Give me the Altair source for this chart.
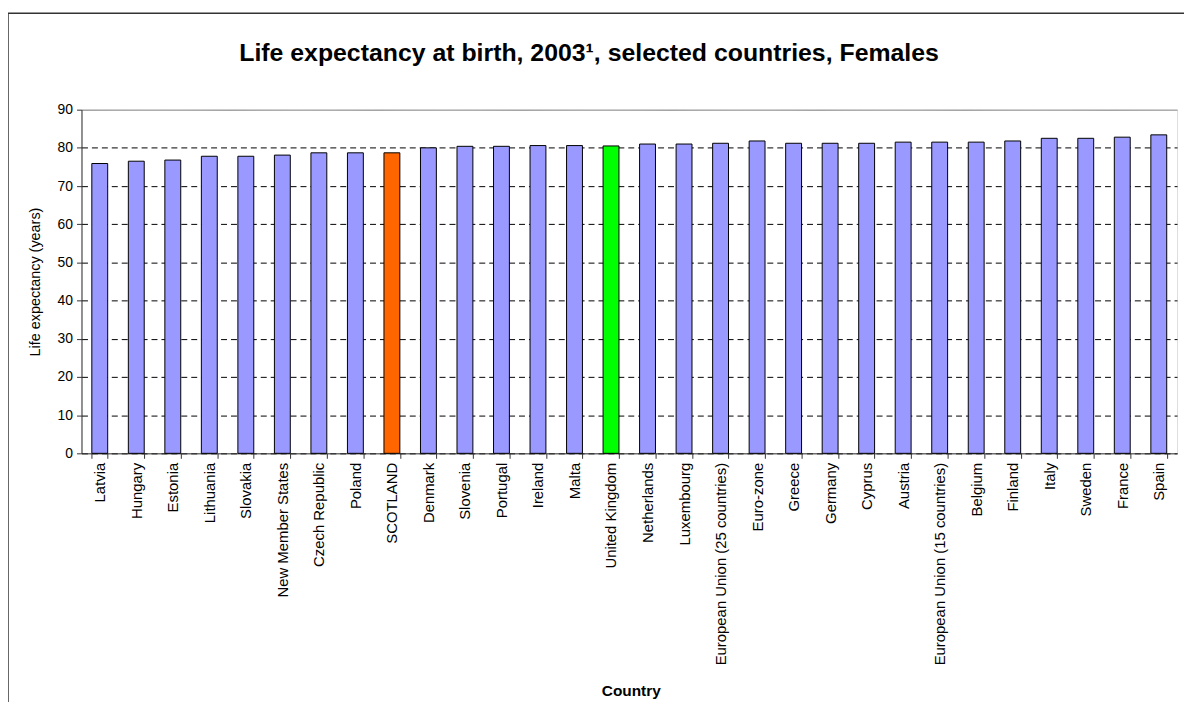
import altair as alt
import pandas as pd

countries = ["Latvia", "Hungary", "Estonia", "Lithuania", "Slovakia", "New Member States",
             "Czech Republic", "Poland", "SCOTLAND", "Denmark", "Slovenia", "Portugal",
             "Ireland", "Malta", "United Kingdom", "Netherlands", "Luxembourg",
             "European Union (25 countries)", "Euro-zone", "Greece", "Germany", "Cyprus",
             "Austria", "European Union (15 countries)", "Belgium", "Finland", "Italy",
             "Sweden", "France", "Spain"]
values = [75.9, 76.5, 76.8, 77.8, 77.8, 78.1, 78.7, 78.7, 78.7, 80.0, 80.4, 80.4,
          80.6, 80.6, 80.5, 81.0, 81.0, 81.2, 81.8, 81.2, 81.2, 81.2, 81.5, 81.5,
          81.5, 81.8, 82.5, 82.5, 82.8, 83.4]
highlight = {"SCOTLAND": "#FF6600", "United Kingdom": "#00FF00"}
default_color = "#9999FF"
title_text = "Life expectancy at birth, 2003\u00b9, selected countries, Females"

df = pd.DataFrame({"Country": countries, "Life": values})
df["color"] = [highlight.get(c, default_color) for c in countries]

FONT = "Liberation Sans"

bars = alt.Chart(df).mark_bar(stroke="black", strokeWidth=1).encode(
    x=alt.X("Country:N", sort=countries,
            scale=alt.Scale(paddingInner=0.565, paddingOuter=0.2825),
            axis=alt.Axis(title="Country", labelAngle=-90, labelFontSize=15,
                          labelFont=FONT, labelColor="black", labelPadding=4,
                          labelLimit=0,
                          tickBand="extent", tickSize=5, tickColor="#333333",
                          domainColor="#333333", titleFont=FONT, titleFontSize=15.5,
                          titleFontWeight="bold", titleColor="black",
                          titleY=244, titleBaseline="alphabetic", titleX=553)),
    y=alt.Y("Life:Q", scale=alt.Scale(domain=[0, 90], nice=False),
            axis=alt.Axis(title="Life expectancy (years)", values=list(range(0, 100, 10)),
                          labelFontSize=14, labelFont=FONT, labelColor="black",
                          tickSize=5, tickColor="#333333", domainColor="#333333",
                          labelPadding=4, grid=True,
                          gridColor={"condition": {"test": "datum.value == 90", "value": "#808080"},
                                     "value": "black"},
                          gridDash={"condition": {"test": "datum.value == 90", "value": [1, 0]},
                                    "value": [6, 4]},
                          gridWidth=1, titleFont=FONT,
                          titleFontSize=14.5, titleFontWeight="normal",
                          titleColor="black", titlePadding=15)),
    color=alt.Color("color:N", scale=None),
)

title = alt.Chart(pd.DataFrame({"t": [title_text]})).mark_text(
    font=FONT, fontSize=25, fontWeight="bold", color="black",
    align="center", baseline="alphabetic"
).encode(x=alt.value(511), y=alt.value(-49), text="t:N")

frame_top = alt.Chart(pd.DataFrame({"a": [0]})).mark_rule(
    color="#333333", strokeWidth=1.5
).encode(x=alt.value(-74), x2=alt.value(1110), y=alt.value(-97))
frame_left = alt.Chart(pd.DataFrame({"a": [0]})).mark_rule(
    color="#333333", strokeWidth=1.5
).encode(x=alt.value(-74), y=alt.value(-97), y2=alt.value(700))

chart = alt.layer(bars, title, frame_top, frame_left).properties(
    width=1103, height=346,
    autosize=alt.AutoSizeParams(type="none"),
    padding={"left": 74, "top": 100, "right": 7, "bottom": 248},
).configure_view(stroke="#808080", strokeWidth=1).configure(background="white")

chart.save("out.html", embed_options={"renderer": "svg", "actions": False})
